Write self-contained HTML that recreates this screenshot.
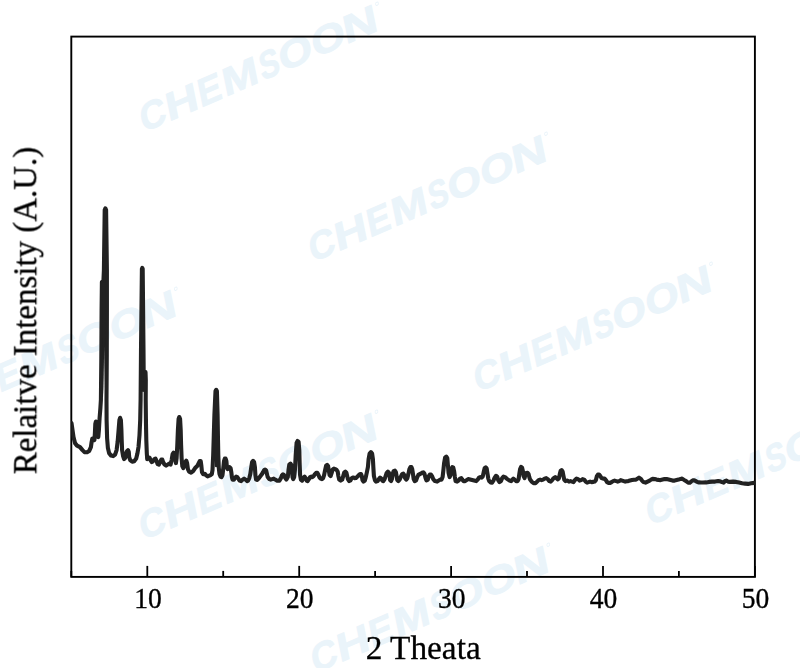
<!DOCTYPE html>
<html><head><meta charset="utf-8"><title>XRD</title>
<style>
html,body{margin:0;padding:0;background:#fff;}
body{width:800px;height:668px;overflow:hidden;}
svg{display:block;}
.bt{filter:grayscale(1);}
text{font-family:"Liberation Serif",serif;}
.wm text{font-family:"Liberation Sans",sans-serif;font-weight:bold;font-size:38px;fill:#eaf4fa;stroke:#eaf4fa;stroke-width:0.7px;}
.tl text{font-size:29px;fill:#000;}
</style></head><body>
<svg width="800" height="668" viewBox="0 0 800 668">
<rect width="800" height="668" fill="#fff"/>
<g class="wm"><g transform="translate(144.1,132.3) rotate(-23.5) skewX(-12)"><text transform="translate(-1.16,0) scale(0.989,1)">C</text><text transform="translate(26.58,0) scale(1.255,1)">H</text><text transform="translate(61.82,0) scale(0.975,1)">E</text><text transform="translate(88.58,0) scale(1.203,1)">M</text><text transform="translate(128.96,0) scale(0.821,1)">S</text><text transform="translate(150.20,0) scale(1.194,1)">O</text><text transform="translate(185.80,0) scale(1.194,1)">O</text><text transform="translate(219.91,0) scale(1.340,1)">N</text><circle cx="259.5" cy="-25" r="1.5" fill="none" stroke="#eaf4fa" stroke-width="0.9"/></g><g transform="translate(313.1,262.3) rotate(-23.5) skewX(-12)"><text transform="translate(-1.16,0) scale(0.989,1)">C</text><text transform="translate(26.58,0) scale(1.255,1)">H</text><text transform="translate(61.82,0) scale(0.975,1)">E</text><text transform="translate(88.58,0) scale(1.203,1)">M</text><text transform="translate(128.96,0) scale(0.821,1)">S</text><text transform="translate(150.20,0) scale(1.194,1)">O</text><text transform="translate(185.80,0) scale(1.194,1)">O</text><text transform="translate(219.91,0) scale(1.340,1)">N</text><circle cx="259.5" cy="-25" r="1.5" fill="none" stroke="#eaf4fa" stroke-width="0.9"/></g><g transform="translate(478.1,392.3) rotate(-23.5) skewX(-12)"><text transform="translate(-1.16,0) scale(0.989,1)">C</text><text transform="translate(26.58,0) scale(1.255,1)">H</text><text transform="translate(61.82,0) scale(0.975,1)">E</text><text transform="translate(88.58,0) scale(1.203,1)">M</text><text transform="translate(128.96,0) scale(0.821,1)">S</text><text transform="translate(150.20,0) scale(1.194,1)">O</text><text transform="translate(185.80,0) scale(1.194,1)">O</text><text transform="translate(219.91,0) scale(1.340,1)">N</text><circle cx="259.5" cy="-25" r="1.5" fill="none" stroke="#eaf4fa" stroke-width="0.9"/></g><g transform="translate(650.4,525.7) rotate(-23.5) skewX(-12)"><text transform="translate(-1.16,0) scale(0.989,1)">C</text><text transform="translate(26.58,0) scale(1.255,1)">H</text><text transform="translate(61.82,0) scale(0.975,1)">E</text><text transform="translate(88.58,0) scale(1.203,1)">M</text><text transform="translate(128.96,0) scale(0.821,1)">S</text><text transform="translate(150.20,0) scale(1.194,1)">O</text><text transform="translate(185.80,0) scale(1.194,1)">O</text><text transform="translate(219.91,0) scale(1.340,1)">N</text><circle cx="259.5" cy="-25" r="1.5" fill="none" stroke="#eaf4fa" stroke-width="0.9"/></g><g transform="translate(-57.1,417.3) rotate(-23.5) skewX(-12)"><text transform="translate(-1.16,0) scale(0.989,1)">C</text><text transform="translate(26.58,0) scale(1.255,1)">H</text><text transform="translate(61.82,0) scale(0.975,1)">E</text><text transform="translate(88.58,0) scale(1.203,1)">M</text><text transform="translate(128.96,0) scale(0.821,1)">S</text><text transform="translate(150.20,0) scale(1.194,1)">O</text><text transform="translate(185.80,0) scale(1.194,1)">O</text><text transform="translate(219.91,0) scale(1.340,1)">N</text><circle cx="259.5" cy="-25" r="1.5" fill="none" stroke="#eaf4fa" stroke-width="0.9"/></g><g transform="translate(143.6,540.3) rotate(-23.5) skewX(-12)"><text transform="translate(-1.16,0) scale(0.989,1)">C</text><text transform="translate(26.58,0) scale(1.255,1)">H</text><text transform="translate(61.82,0) scale(0.975,1)">E</text><text transform="translate(88.58,0) scale(1.203,1)">M</text><text transform="translate(128.96,0) scale(0.821,1)">S</text><text transform="translate(150.20,0) scale(1.194,1)">O</text><text transform="translate(185.80,0) scale(1.194,1)">O</text><text transform="translate(219.91,0) scale(1.340,1)">N</text><circle cx="259.5" cy="-25" r="1.5" fill="none" stroke="#eaf4fa" stroke-width="0.9"/></g><g transform="translate(315.4,673.3) rotate(-23.5) skewX(-12)"><text transform="translate(-1.16,0) scale(0.989,1)">C</text><text transform="translate(26.58,0) scale(1.255,1)">H</text><text transform="translate(61.82,0) scale(0.975,1)">E</text><text transform="translate(88.58,0) scale(1.203,1)">M</text><text transform="translate(128.96,0) scale(0.821,1)">S</text><text transform="translate(150.20,0) scale(1.194,1)">O</text><text transform="translate(185.80,0) scale(1.194,1)">O</text><text transform="translate(219.91,0) scale(1.340,1)">N</text><circle cx="259.5" cy="-25" r="1.5" fill="none" stroke="#eaf4fa" stroke-width="0.9"/></g></g>
<rect x="71.3" y="36.6" width="683.6" height="540.3" fill="none" stroke="#000" stroke-width="1.9"/>
<g stroke="#000" stroke-width="1.8"><line x1="71.3" y1="576.9" x2="71.3" y2="570.9"/><line x1="147.3" y1="576.9" x2="147.3" y2="565.9"/><line x1="223.2" y1="576.9" x2="223.2" y2="570.9"/><line x1="299.2" y1="576.9" x2="299.2" y2="565.9"/><line x1="375.1" y1="576.9" x2="375.1" y2="570.9"/><line x1="451.1" y1="576.9" x2="451.1" y2="565.9"/><line x1="527.0" y1="576.9" x2="527.0" y2="570.9"/><line x1="603.0" y1="576.9" x2="603.0" y2="565.9"/><line x1="678.9" y1="576.9" x2="678.9" y2="570.9"/><line x1="754.9" y1="576.9" x2="754.9" y2="565.9"/></g>
<g class="bt"><g class="tl"><text transform="translate(147.9,608.1) scale(0.95,1)" text-anchor="middle" stroke="#000" stroke-width="0.35">10</text><text transform="translate(299.8,608.1) scale(0.95,1)" text-anchor="middle" stroke="#000" stroke-width="0.35">20</text><text transform="translate(451.7,608.1) scale(0.95,1)" text-anchor="middle" stroke="#000" stroke-width="0.35">30</text><text transform="translate(603.6,608.1) scale(0.95,1)" text-anchor="middle" stroke="#000" stroke-width="0.35">40</text><text transform="translate(755.5,608.1) scale(0.95,1)" text-anchor="middle" stroke="#000" stroke-width="0.35">50</text></g>
<text x="423.2" y="659.2" text-anchor="middle" font-size="33.3" fill="#000" stroke="#000" stroke-width="0.3">2 Theata</text>
<text transform="translate(36.3,310.5) rotate(-90)" text-anchor="middle" font-size="32.95" fill="#000" stroke="#000" stroke-width="0.3">Relaitve Intensity (A.U.)</text></g>
<clipPath id="cp"><rect x="71.3" y="36.6" width="683.6" height="540"/></clipPath>
<path clip-path="url(#cp)" d="M71.5,423.1 L72.5,430.1 L73.5,437.1 L75.0,443.1 L77.0,445.6 L80.0,447.1 L82.5,450.1 L84.5,452.1 L87.1,452.3 L89.1,451.1 L90.9,447.1 L91.6,442.1 L92.3,438.6 L93.6,438.1 L94.4,440.1 L94.9,433.1 L95.3,424.1 L95.9,421.6 L97.1,422.6 L97.9,430.1 L98.3,437.1 L98.9,430.1 L99.6,418.0 L100.4,408.0 L100.9,400.0 L101.3,360.0 L101.6,310.0 L101.9,282.0 L103.4,281.5 L103.9,270.0 L104.7,210.0 L105.4,208.3 L106.1,210.0 L106.9,270.0 L106.9,310.0 L106.8,355.0 L106.5,400.0 L106.6,420.1 L107.1,438.1 L107.9,448.1 L109.1,453.1 L111.1,455.6 L113.1,456.1 L115.1,454.6 L116.6,450.1 L117.6,442.1 L118.6,430.1 L119.4,420.1 L120.1,417.8 L120.9,420.1 L121.4,430.1 L121.7,440.1 L122.1,450.1 L123.1,456.1 L124.1,459.1 L125.1,458.1 L125.9,454.1 L127.0,451.1 L128.0,450.1 L128.8,452.1 L129.2,457.1 L130.2,460.1 L132.2,461.7 L134.2,461.2 L136.2,458.6 L137.4,453.6 L138.5,447.0 L139.5,435.1 L140.2,420.0 L140.6,400.0 L141.0,350.0 L141.9,269.0 L142.3,267.9 L142.7,269.0 L143.5,350.0 L143.8,390.0 L144.6,380.0 L145.5,372.0 L145.8,380.0 L145.7,400.0 L146.0,425.0 L146.3,440.1 L146.8,453.1 L147.2,459.1 L148.5,458.6 L149.5,457.6 L150.5,460.1 L151.8,462.1 L153.0,461.1 L154.5,459.1 L155.5,458.6 L156.6,461.1 L157.6,464.1 L158.9,464.6 L160.1,462.1 L161.3,459.6 L162.3,459.6 L163.1,462.1 L164.6,464.6 L166.1,465.6 L167.6,464.6 L169.1,463.6 L170.6,464.6 L171.6,460.1 L172.6,454.1 L173.6,452.6 L174.6,454.1 L175.3,460.1 L175.9,463.1 L176.6,458.1 L177.3,445.1 L177.9,430.1 L178.6,419.0 L179.3,417.0 L180.1,419.0 L180.7,430.1 L181.1,445.1 L181.6,458.1 L182.3,466.1 L183.3,468.1 L184.3,466.1 L185.3,462.1 L186.3,460.6 L187.1,463.1 L187.9,469.1 L189.1,471.7 L191.1,472.7 L193.1,471.2 L195.1,468.1 L197.2,466.1 L198.7,463.1 L199.7,461.1 L200.7,461.1 L201.4,466.1 L202.0,472.2 L203.2,474.2 L204.7,473.7 L206.2,475.4 L207.6,476.4 L209.3,475.7 L210.5,475.1 L211.8,474.1 L212.5,470.1 L213.2,455.1 L213.8,435.0 L214.4,415.0 L215.5,391.0 L216.2,389.8 L216.9,391.0 L217.6,415.0 L218.0,440.0 L218.3,455.1 L218.8,468.1 L219.5,474.1 L220.5,476.6 L221.5,477.1 L222.5,475.1 L223.2,469.1 L224.0,461.1 L224.8,458.6 L225.6,458.6 L226.4,461.1 L226.9,467.1 L227.6,469.1 L228.6,467.6 L229.6,467.1 L230.6,468.1 L231.3,472.1 L231.9,477.1 L232.6,479.6 L233.9,479.6 L235.1,477.6 L236.1,476.6 L237.3,477.1 L238.3,478.6 L239.6,480.6 L241.1,481.1 L242.6,479.6 L244.1,478.6 L245.6,479.6 L247.1,481.1 L248.1,480.6 L249.3,478.1 L250.3,474.1 L251.3,467.1 L252.1,462.1 L253.1,460.9 L254.1,462.1 L254.9,467.1 L255.4,475.1 L256.1,479.6 L257.3,479.9 L258.6,478.6 L260.1,476.6 L261.6,474.6 L263.1,472.1 L264.1,470.1 L265.1,469.6 L266.2,470.6 L267.0,474.1 L267.7,477.1 L269.2,479.1 L270.7,479.6 L272.2,479.1 L273.7,478.6 L275.2,479.6 L277.2,480.8 L279.4,480.6 L280.9,478.1 L281.9,475.4 L283.0,474.3 L284.1,475.2 L285.0,477.6 L286.4,479.6 L287.8,477.1 L288.5,470.1 L289.3,464.6 L290.5,463.6 L291.5,465.1 L292.0,471.1 L292.5,477.1 L293.2,479.1 L294.2,477.1 L295.0,469.1 L295.7,455.1 L296.6,443.0 L297.6,441.0 L298.6,442.0 L299.3,450.1 L299.7,465.1 L300.1,475.1 L300.9,479.6 L302.1,480.6 L303.3,478.1 L304.6,476.6 L305.6,478.1 L306.6,480.6 L307.6,481.1 L308.9,479.1 L310.1,477.1 L311.3,476.6 L312.3,477.1 L313.6,476.1 L314.9,474.1 L316.1,472.9 L317.3,472.9 L318.3,474.6 L319.3,477.1 L320.6,478.6 L321.9,479.1 L323.1,478.1 L324.1,475.1 L325.1,470.1 L326.1,465.6 L327.1,464.9 L328.1,466.1 L328.9,471.1 L329.6,475.1 L330.6,476.1 L331.6,473.1 L332.6,469.6 L333.9,468.6 L335.1,469.1 L336.7,470.1 L337.7,471.6 L338.4,476.1 L339.2,479.6 L340.7,480.6 L342.2,479.6 L343.2,476.1 L344.2,472.6 L345.4,471.6 L346.4,472.6 L347.1,475.6 L347.9,479.1 L349.2,481.1 L350.4,480.4 L351.5,478.4 L352.6,477.6 L353.7,477.6 L354.7,478.1 L356.0,478.0 L357.5,476.6 L358.8,475.1 L360.0,474.1 L361.0,474.1 L361.8,476.1 L362.5,480.1 L363.5,481.6 L364.8,480.6 L365.8,477.1 L366.9,472.1 L367.9,467.1 L368.6,459.1 L369.6,453.6 L370.9,452.1 L372.1,453.6 L372.9,459.1 L373.4,468.1 L373.9,476.1 L374.9,480.1 L376.1,481.6 L377.6,481.1 L378.9,479.1 L380.1,477.6 L381.3,478.6 L382.3,480.6 L383.3,481.1 L384.6,479.1 L385.6,476.1 L386.6,473.1 L387.9,471.6 L388.9,472.6 L389.6,476.1 L390.1,480.1 L391.1,481.1 L391.9,479.1 L392.6,474.1 L393.6,471.1 L394.9,470.6 L395.9,472.1 L396.6,476.1 L397.3,480.1 L398.3,481.1 L399.6,479.6 L400.9,476.6 L402.1,474.1 L403.3,473.6 L404.3,475.1 L405.1,478.1 L406.2,479.6 L407.4,478.1 L408.4,474.1 L409.4,469.1 L410.4,467.1 L411.4,467.1 L412.2,469.1 L413.0,474.1 L413.7,479.1 L414.7,481.1 L416.1,480.4 L417.3,477.1 L418.4,474.9 L419.8,474.1 L421.2,473.4 L422.5,472.6 L423.4,472.4 L424.4,473.6 L425.4,477.6 L426.4,480.4 L427.8,479.6 L428.8,476.1 L429.8,474.6 L431.0,474.6 L432.0,476.1 L433.2,479.1 L435.0,481.1 L437.1,481.6 L438.6,480.6 L440.1,479.6 L441.6,479.6 L442.6,477.1 L443.3,471.1 L444.1,463.1 L445.1,457.6 L446.3,456.6 L447.3,458.1 L447.9,465.1 L448.6,473.1 L449.6,477.1 L450.6,475.1 L451.3,469.1 L452.3,467.1 L453.3,467.6 L454.1,471.1 L454.9,477.1 L455.6,481.1 L457.1,481.6 L458.6,480.6 L460.1,478.6 L461.3,478.1 L462.3,479.6 L463.6,481.1 L465.1,481.1 L466.6,480.1 L468.1,479.1 L470.1,479.6 L472.1,480.1 L474.1,480.6 L476.2,481.1 L477.7,479.6 L479.0,477.6 L480.2,477.1 L481.7,477.6 L482.7,476.6 L483.7,472.1 L484.7,468.1 L485.7,467.3 L486.7,468.6 L487.4,473.1 L488.3,478.6 L489.2,481.1 L490.5,482.4 L492.1,482.6 L493.4,480.6 L494.7,477.6 L496.0,475.8 L497.2,476.6 L498.2,480.1 L499.5,482.1 L501.0,481.1 L502.2,478.1 L503.5,476.6 L505.0,477.1 L506.6,478.6 L508.1,479.6 L509.6,480.6 L511.1,481.1 L512.3,479.6 L513.3,478.6 L514.6,479.6 L516.1,481.1 L517.6,481.1 L518.6,479.1 L519.3,474.1 L520.1,469.1 L521.1,466.9 L522.1,467.6 L522.9,471.1 L523.6,476.1 L524.6,478.1 L525.3,475.1 L526.3,473.1 L527.6,472.9 L528.6,474.1 L529.3,477.1 L530.1,479.6 L531.6,481.6 L533.6,483.1 L535.6,483.1 L537.1,481.6 L538.6,480.1 L540.1,479.6 L541.6,480.1 L543.1,479.6 L544.6,478.6 L546.2,478.1 L547.7,479.1 L549.2,481.1 L550.7,481.6 L552.2,480.1 L553.7,478.1 L555.2,477.1 L556.7,478.4 L557.9,479.4 L558.9,478.4 L559.8,474.1 L560.6,470.9 L561.6,470.1 L562.6,471.4 L563.4,475.6 L564.3,479.9 L565.5,481.1 L567.5,480.6 L569.0,481.6 L570.5,481.1 L572.0,481.6 L573.5,482.1 L575.0,480.1 L576.6,478.6 L578.1,479.1 L579.6,480.6 L581.1,480.1 L582.6,479.1 L584.1,479.6 L585.6,481.6 L587.1,482.6 L588.6,482.1 L590.1,481.6 L591.6,482.1 L593.1,481.9 L594.6,481.6 L595.9,480.1 L596.9,476.1 L597.9,474.6 L599.1,474.6 L600.3,476.1 L601.6,478.1 L603.1,478.6 L604.6,478.6 L605.9,480.1 L607.1,482.1 L608.6,482.9 L610.1,482.9 L611.6,482.1 L613.1,481.1 L614.6,480.6 L616.2,481.1 L617.7,481.6 L619.2,481.1 L620.7,480.1 L622.2,480.6 L623.7,481.1 L625.2,481.6 L626.7,481.2 L628.2,481.1 L630.0,480.6 L632.0,480.1 L634.0,479.7 L636.0,479.7 L637.5,478.6 L639.0,477.6 L640.5,478.6 L642.0,480.6 L643.5,482.1 L645.5,482.6 L647.6,481.6 L649.6,480.6 L651.1,479.6 L652.6,478.9 L654.6,479.1 L656.6,479.6 L658.6,479.9 L660.6,480.1 L662.6,479.6 L664.6,479.1 L666.6,479.1 L668.6,479.6 L670.6,480.1 L672.6,480.6 L674.6,480.6 L676.6,480.1 L678.6,479.6 L680.6,478.9 L682.1,478.6 L683.6,479.6 L685.1,480.6 L686.7,481.6 L688.2,482.6 L689.8,482.8 L691.3,481.4 L692.8,480.4 L694.3,480.3 L695.8,481.1 L697.4,482.0 L699.0,482.4 L701.0,482.5 L703.0,482.5 L706.0,482.4 L709.0,481.9 L712.1,481.6 L715.1,481.6 L718.1,481.1 L720.1,481.3 L722.1,482.1 L723.6,482.6 L725.1,480.9 L726.6,480.6 L728.1,481.6 L730.1,481.9 L733.1,481.6 L736.1,481.9 L739.1,482.6 L742.1,483.3 L745.1,483.6 L748.1,483.9 L751.2,483.3 L754.2,482.9" fill="none" stroke="#222" stroke-width="4.1" stroke-linejoin="round" stroke-linecap="round"/>
<g stroke="#222" stroke-width="2.6" stroke-linecap="round" fill="none">
<path d="M105.3,212 L104.2,300 L103.9,345"/>
<path d="M142.3,272 L142.6,380"/>
<path d="M216.2,394 L216.2,466"/>
<polygon points="102.6,338 105.2,338 103.8,397" fill="#222" stroke="none"/>
</g>
</svg>
</body></html>
